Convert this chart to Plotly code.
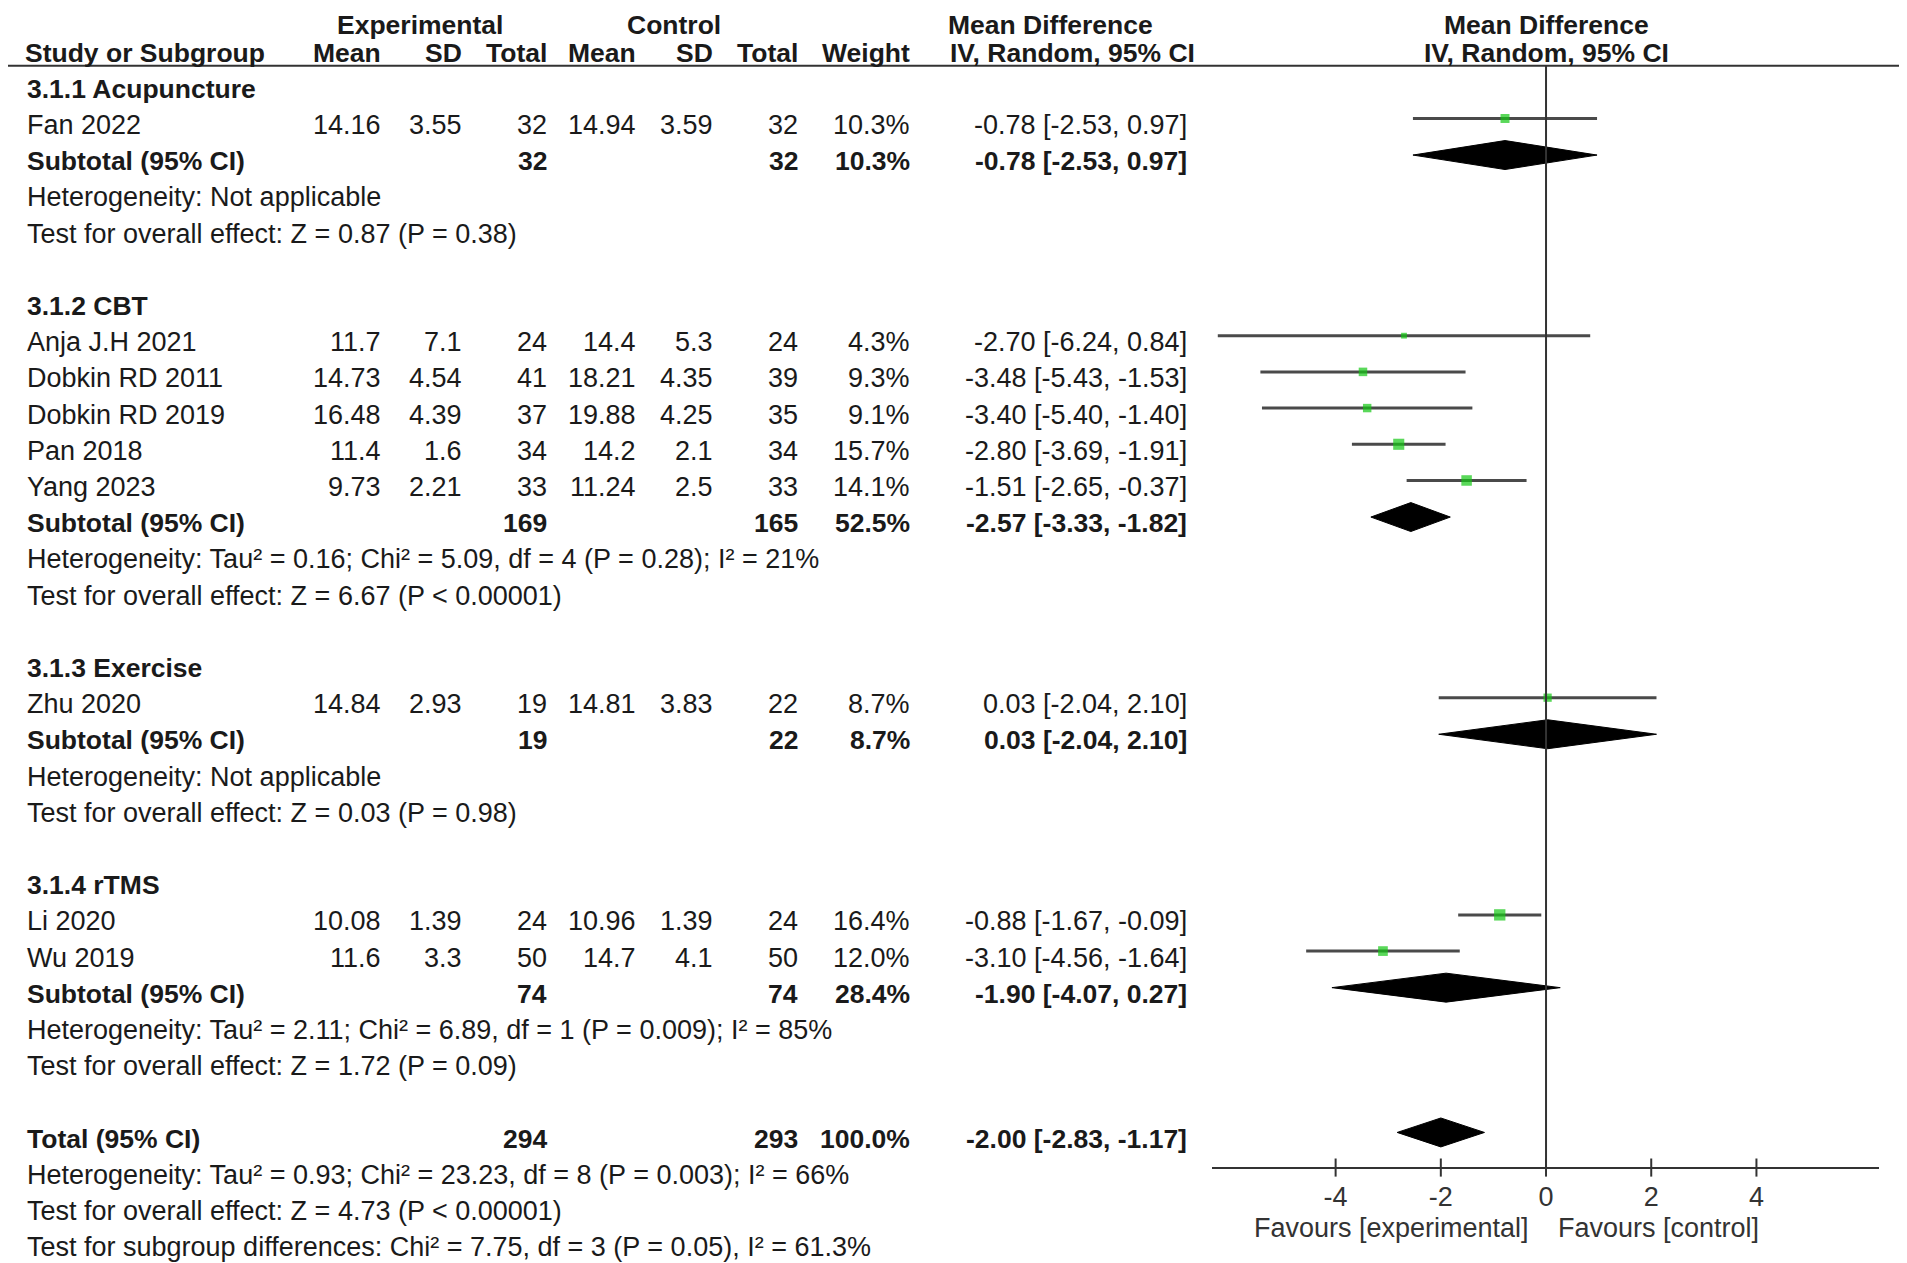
import plotly.graph_objects as go

# --- data ---
groups = ["3.1.1 Acupuncture", "3.1.2 CBT", "3.1.3 Exercise", "3.1.4 rTMS"]

studies = ["Fan 2022", "Anja J.H 2021", "Dobkin RD 2011", "Dobkin RD 2019", "Pan 2018",
           "Yang 2023", "Zhu 2020", "Li 2020", "Wu 2019"]
study_group = [0, 1, 1, 1, 1, 1, 2, 3, 3]
exp_mean = [14.16, 11.7, 14.73, 16.48, 11.4, 9.73, 14.84, 10.08, 11.6]
exp_sd = [3.55, 7.1, 4.54, 4.39, 1.6, 2.21, 2.93, 1.39, 3.3]
exp_n = [32, 24, 41, 37, 34, 33, 19, 24, 50]
ctl_mean = [14.94, 14.4, 18.21, 19.88, 14.2, 11.24, 14.81, 10.96, 14.7]
ctl_sd = [3.59, 5.3, 4.35, 4.25, 2.1, 2.5, 3.83, 1.39, 4.1]
ctl_n = [32, 24, 39, 35, 34, 33, 22, 24, 50]
weight = [10.3, 4.3, 9.3, 9.1, 15.7, 14.1, 8.7, 16.4, 12.0]
md = [-0.78, -2.70, -3.48, -3.40, -2.80, -1.51, 0.03, -0.88, -3.10]
ci_lo = [-2.53, -6.24, -5.43, -5.40, -3.69, -2.65, -2.04, -1.67, -4.56]
ci_hi = [0.97, 0.84, -1.53, -1.40, -1.91, -0.37, 2.10, -0.09, -1.64]

sub_exp_n = [32, 169, 19, 74]
sub_ctl_n = [32, 165, 22, 74]
sub_weight = [10.3, 52.5, 8.7, 28.4]
sub_md = [-0.78, -2.57, 0.03, -1.90]
sub_lo = [-2.53, -3.33, -2.04, -4.07]
sub_hi = [0.97, -1.82, 2.10, 0.27]
sub_het = ["Heterogeneity: Not applicable",
           "Heterogeneity: Tau² = 0.16; Chi² = 5.09, df = 4 (P = 0.28); I² = 21%",
           "Heterogeneity: Not applicable",
           "Heterogeneity: Tau² = 2.11; Chi² = 6.89, df = 1 (P = 0.009); I² = 85%"]
sub_test = ["Test for overall effect: Z = 0.87 (P = 0.38)",
            "Test for overall effect: Z = 6.67 (P < 0.00001)",
            "Test for overall effect: Z = 0.03 (P = 0.98)",
            "Test for overall effect: Z = 1.72 (P = 0.09)"]

total_exp_n, total_ctl_n, total_weight = 294, 293, 100.0
total_md, total_lo, total_hi = -2.00, -2.83, -1.17
total_notes = ["Heterogeneity: Tau² = 0.93; Chi² = 23.23, df = 8 (P = 0.003); I² = 66%",
               "Test for overall effect: Z = 4.73 (P < 0.00001)",
               "Test for subgroup differences: Chi² = 7.75, df = 3 (P = 0.05), I² = 61.3%"]

tick_vals = [-4, -2, 0, 2, 4]
tick_text = [str(t) for t in tick_vals]

# --- layout constants (figure pixels; the page adds an 8px body margin) ---
W, H = 1899, 1255
FONT = "Liberation Sans, Arial, sans-serif"
FS = 27        # regular text
FSB = 26.5     # bold text
TXT = "#1a1a1a"
ROW0, PITCH = 80.8, 36.2   # pixel y of row 0, pixels per row
AXIS_ROW = 29.8
HEAD_LINE = -0.64
HEAD_TOP = -1.77
LEFT = 18
col_x = {  # right edges (pixels)
    "em": 374, "es": 455, "et": 540, "cm": 629, "cs": 706, "ct": 791, "w": 903, "ci": 1180,
}

def px(x):
    return x / W

annots = []

def txt(x, y, s, anchor="left", bold=False, xref="paper", color=TXT):
    annots.append(dict(x=x, y=y, xref=xref, yref="y", text=f"<b>{s}</b>" if bold else s,
                       showarrow=False, xanchor=anchor, yanchor="middle", borderpad=0,
                       font=dict(family=FONT, size=FSB if bold else FS, color=color)))

def ci_str(m, lo, hi):
    return f"{m:.2f} [{lo:.2f}, {hi:.2f}]"

# header
txt(px(412), HEAD_TOP, "Experimental", "center", True)
txt(px(666), HEAD_TOP, "Control", "center", True)
txt(px(1042), HEAD_TOP, "Mean Difference", "center", True)
txt(0, HEAD_TOP, "Mean Difference", "center", True, xref="x")
txt(px(LEFT - 2), -1, "Study or Subgroup", bold=True)
for key, lab in [("em", "Mean"), ("es", "SD"), ("et", "Total"), ("cm", "Mean"),
                 ("cs", "SD"), ("ct", "Total"), ("w", "Weight")]:
    txt(px(col_x[key]), -1, lab, "right", True)
txt(px(1064), -1, "IV, Random, 95% CI", "center", True)
txt(0, -1, "IV, Random, 95% CI", "center", True, xref="x")

# body rows
study_rows, diamonds = [], []
row = 0
for g, gname in enumerate(groups):
    txt(px(LEFT), row, gname, bold=True)
    row += 1
    for i, s in enumerate(studies):
        if study_group[i] != g:
            continue
        txt(px(LEFT), row, s)
        vals = [("em", exp_mean[i]), ("es", exp_sd[i]), ("et", exp_n[i]),
                ("cm", ctl_mean[i]), ("cs", ctl_sd[i]), ("ct", ctl_n[i])]
        for key, v in vals:
            txt(px(col_x[key]), row, str(v), "right")
        txt(px(col_x["w"]), row, f"{weight[i]:.1f}%", "right")
        txt(px(col_x["ci"]), row, ci_str(md[i], ci_lo[i], ci_hi[i]), "right")
        study_rows.append((i, row))
        row += 1
    txt(px(LEFT), row, "Subtotal (95% CI)", bold=True)
    txt(px(col_x["et"]), row, str(sub_exp_n[g]), "right", True)
    txt(px(col_x["ct"]), row, str(sub_ctl_n[g]), "right", True)
    txt(px(col_x["w"]), row, f"{sub_weight[g]:.1f}%", "right", True)
    txt(px(col_x["ci"]), row, ci_str(sub_md[g], sub_lo[g], sub_hi[g]), "right", True)
    diamonds.append((sub_md[g], sub_lo[g], sub_hi[g], row))
    row += 1
    txt(px(LEFT), row, sub_het[g])
    row += 1
    txt(px(LEFT), row, sub_test[g])
    row += 2

txt(px(LEFT), row, "Total (95% CI)", bold=True)
txt(px(col_x["et"]), row, str(total_exp_n), "right", True)
txt(px(col_x["ct"]), row, str(total_ctl_n), "right", True)
txt(px(col_x["w"]), row, f"{total_weight:.1f}%", "right", True)
txt(px(col_x["ci"]), row, ci_str(total_md, total_lo, total_hi), "right", True)
diamonds.append((total_md, total_lo, total_hi, row))
for note in total_notes:
    row += 1
    txt(px(LEFT), row, note)

# favours labels
txt(-0.3, 31.47, "Favours [experimental]", "right", xref="x", color="#333")
txt(0.2, 31.47, "Favours [control]", "left", xref="x", color="#333")

fig = go.Figure()

# CI whiskers
lx, ly = [], []
for i, r in study_rows:
    lx += [ci_lo[i], ci_hi[i], None]
    ly += [r - 0.18, r - 0.18, None]
fig.add_trace(go.Scatter(x=lx, y=ly, mode="lines", line=dict(color="#4a4a4a", width=3),
                         hoverinfo="skip", showlegend=False))

# study point estimates
fig.add_trace(go.Scatter(
    x=[md[i] for i, _ in study_rows], y=[r - 0.18 for _, r in study_rows], mode="markers",
    marker=dict(symbol="square", color="#14c814",
                size=[2.8 * weight[i] ** 0.5 for i, _ in study_rows], line=dict(width=0)),
    showlegend=False))

# pooled diamonds
for m, lo, hi, r in diamonds:
    c = r - 0.17
    fig.add_trace(go.Scatter(x=[lo, m, hi, m, lo], y=[c, c - 0.4, c, c + 0.4, c],
                             mode="lines", fill="toself", fillcolor="black",
                             line=dict(color="black", width=1), showlegend=False))

# axis ticks crossing the axis line
tx, ty = [], []
for t in tick_vals:
    tx += [t, t, None]
    ty += [AXIS_ROW - 0.25, AXIS_ROW + 0.25, None]
fig.add_trace(go.Scatter(x=tx, y=ty, mode="lines", line=dict(color="#333", width=2),
                         hoverinfo="skip", showlegend=False))

shapes = [
    dict(type="line", xref="paper", yref="y", x0=0, x1=1, y0=HEAD_LINE, y1=HEAD_LINE,
         line=dict(color="#333", width=2)),
    dict(type="line", xref="x", yref="y", x0=0, x1=0, y0=HEAD_LINE, y1=AXIS_ROW,
         line=dict(color="#333", width=2)),
]

top_slot = -ROW0 / PITCH
bot_slot = (H - ROW0) / PITCH

fig.update_layout(
    width=W, height=H, margin=dict(l=0, r=0, t=0, b=0),
    paper_bgcolor="white", plot_bgcolor="white",
    annotations=annots, shapes=shapes,
    xaxis=dict(domain=[1204 / W, 1871 / W], range=[-6.35, 6.33], anchor="free",
               position=1 - (ROW0 + PITCH * AXIS_ROW) / H,
               showline=True, linecolor="#333", linewidth=2, showgrid=False, zeroline=False,
               tickvals=tick_vals, ticktext=tick_text, ticks="", ticklabelstandoff=5,
               tickfont=dict(family=FONT, size=FS, color="#333")),
    yaxis=dict(domain=[0, 1], range=[bot_slot, top_slot], visible=False, showgrid=False,
               zeroline=False),
)

fig.write_html("out.html")
